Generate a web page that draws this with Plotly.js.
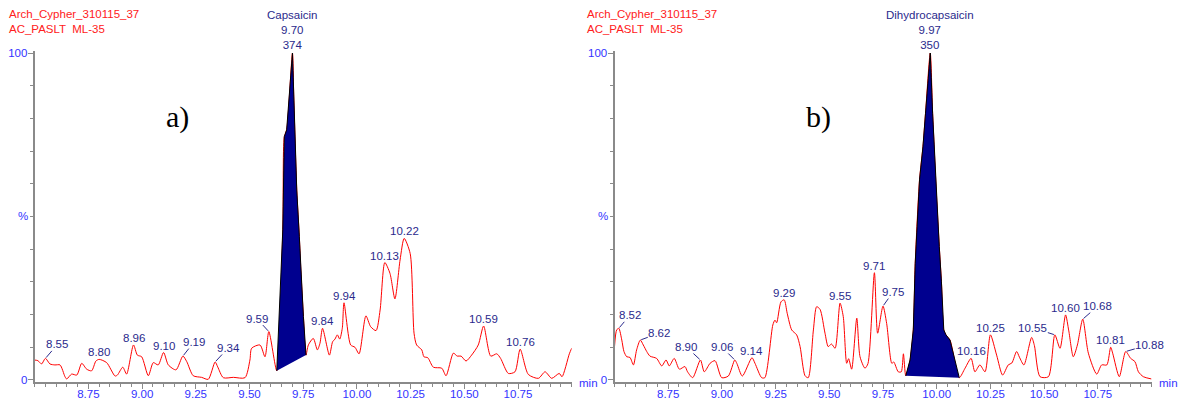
<!DOCTYPE html>
<html>
<head>
<meta charset="utf-8">
<script src="https://cdn.plot.ly/plotly-3.0.1.min.js"></script>
<style>
  html, body { margin: 0; padding: 0; background: #ffffff; }
  #chart { width: 1184px; height: 402px; }
</style>
</head>
<body>
<div id="chart"></div>
<script>
// ---- Chromatogram a): Capsaicin channel (retention time in min, relative intensity %) ----
const capTime = [
  8.500, 8.515, 8.532, 8.550, 8.571, 8.594, 8.618, 8.641, 8.649, 8.672, 8.696, 8.719, 8.742, 8.765,
  8.785, 8.800, 8.835, 8.874, 8.885, 8.910, 8.928, 8.960, 8.978, 8.998, 9.029, 9.052, 9.075, 9.100,
  9.122, 9.158, 9.190, 9.208, 9.238, 9.277, 9.308, 9.340, 9.352, 9.378, 9.425, 9.479, 9.502, 9.510,
  9.549, 9.572, 9.590, 9.627, 9.655, 9.662, 9.673, 9.700, 9.706, 9.720, 9.732, 9.739, 9.751, 9.763,
  9.774, 9.797, 9.816, 9.828, 9.840, 9.872, 9.887, 9.898, 9.909, 9.920, 9.932, 9.940, 9.971, 9.991,
  10.010, 10.042, 10.064, 10.089, 10.108, 10.130, 10.154, 10.177, 10.201, 10.220, 10.248, 10.266,
  10.278, 10.302, 10.312, 10.330, 10.356, 10.395, 10.415, 10.449, 10.467, 10.485, 10.508, 10.534,
  10.565, 10.590, 10.623, 10.651, 10.669, 10.705, 10.736, 10.760, 10.798, 10.845, 10.876, 10.907,
  10.942, 10.955, 10.989, 11.000
];
const capInt = [
  6.1, 5.9, 4.9, 6.6, 4.9, 4.6, 4.6, 1.0, 0.3, 1.8, 1.5, 5.1, 3.3, 2.8,
  5.8, 6.3, 5.3, 1.2, 1.5, 3.9, 1.8, 10.7, 7.6, 7.1, 1.3, 5.3, 4.6, 8.4,
  4.6, 3.1, 7.3, 5.6, 1.3, 0.8, 0.2, 5.5, 4.0, 0.7, 0.8, 0.7, 6.1, 9.7,
  10.7, 7.1, 14.8, 2.8, 45.9, 74.4, 76.5, 100, 86.6, 58.1, 43.8, 33.6, 19.4, 7.6,
  10.7, 12.7, 9.2, 11.2, 15.8, 7.6, 11.7, 12.5, 13.8, 12.5, 15.8, 23.6, 10.7, 10.0,
  8.0, 19.6, 16.3, 15.1, 21.4, 35.9, 32.6, 24.8, 36.7, 43.3, 38.7, 14.3,
  10.7, 9.2, 7.1, 6.8, 3.9, 3.6, 1.3, 8.2, 7.3, 7.3, 5.8, 7.6,
  10.7, 16.5, 7.3, 8.0, 6.6, 2.0, 2.5, 9.4, 1.7, 0.5, 2.5, 0.5,
  2.0, 1.0, 8.0, 9.7
];

// ---- Chromatogram b): Dihydrocapsaicin channel ----
const dhcTime = [
  8.500, 8.510, 8.520, 8.534, 8.544, 8.557, 8.572, 8.588, 8.603, 8.620, 8.634, 8.650, 8.665, 8.696,
  8.720, 8.740, 8.755, 8.778, 8.802, 8.828, 8.840, 8.864, 8.900, 8.918, 8.945, 8.968, 8.999, 9.030,
  9.060, 9.070, 9.095, 9.140, 9.154, 9.185, 9.200, 9.237, 9.247, 9.255, 9.275, 9.290, 9.304, 9.325,
  9.348, 9.364, 9.387, 9.402, 9.426, 9.441, 9.457, 9.480, 9.495, 9.510, 9.527, 9.550, 9.565, 9.581,
  9.590, 9.604, 9.628, 9.643, 9.666, 9.680, 9.710, 9.725, 9.750, 9.767, 9.791, 9.800, 9.821, 9.835,
  9.845, 9.856, 9.876, 9.891, 9.900, 9.920, 9.936, 9.948, 9.970, 9.981, 9.997, 10.012, 10.022,
  10.033, 10.043, 10.062, 10.105, 10.132, 10.160, 10.178, 10.201, 10.225, 10.250, 10.279, 10.307,
  10.333, 10.350, 10.372, 10.385, 10.406, 10.442, 10.455, 10.481, 10.520, 10.550, 10.574, 10.600,
  10.615, 10.636, 10.655, 10.680, 10.706, 10.745, 10.768, 10.792, 10.810, 10.820, 10.850, 10.880,
  10.903, 10.923, 10.939, 10.962, 11.000
];
const dhcInt = [
  10.2, 15.3, 15.8, 12.2, 8.7, 7.1, 6.9, 4.6, 9.2, 12.2, 10.7, 8.7, 7.3, 6.6,
  4.3, 6.1, 4.3, 6.6, 3.3, 4.1, 2.5, 0.7, 6.1, 2.5, 5.1, 5.9, 0.7, 1.2,
  6.1, 5.0, 1.2, 6.8, 5.1, 0.7, 0.7, 16.8, 18.3, 17.5, 23.9, 24.5, 20.4, 15.3,
  13.8, 10.2, 1.3, 0.7, 15.3, 22.4, 21.6, 14.3, 10.2, 11.0, 9.7, 23.5, 19.4, 5.1,
  6.5, 3.3, 18.9, 7.1, 3.6, 5.0, 32.8, 14.3, 22.6, 17.3, 5.1, 5.5, 2.5, 2.5,
  8.0, 1.3, 6.1, 15.3, 35.7, 61.2, 71.3, 81.6, 100, 81.6, 59.1, 40.8, 30.0,
  15.3, 13.8, 12.2, 0.7, 3.6, 6.6, 2.5, 4.6, 2.5, 13.8, 7.6, 1.5,
  4.6, 5.2, 8.7, 7.0, 4.6, 13.0, 10.5, 1.0, 1.0, 13.8, 9.7, 19.9,
  15.0, 7.1, 10.7, 18.6, 8.2, 1.8, 4.6, 4.6, 10.0, 8.0, 1.0, 8.7,
  6.6, 5.6, 2.5, 1.0, 0.3
];

// Integrated peaks: compound, apex time, area, integration window
const compoundNames = ["Capsaicin", "Dihydrocapsaicin"];
const apexTimes = [9.70, 9.97];
const peakAreas = [374, 350];
const peakStarts = [9.627, 9.856];
const peakEnds = [9.763, 10.105];

// Apex times marked on each trace
const capLabelTimes = [8.55, 8.80, 8.96, 9.10, 9.19, 9.34, 9.59, 9.84, 9.94, 10.13, 10.22, 10.59, 10.76];
const dhcLabelTimes = [8.52, 8.62, 8.90, 9.06, 9.14, 9.29, 9.55, 9.71, 9.75, 10.16, 10.25, 10.55, 10.60, 10.68, 10.81, 10.88];

// Header lines and panel letters
const sampleName = "Arch_Cypher_310115_37";
const methodName = "AC_PASLT  ML-35";
const panelLetters = ["a)", "b)"];

// Tick labels
const xTickVals = [8.75, 9.00, 9.25, 9.50, 9.75, 10.00, 10.25, 10.50, 10.75];
const xTickText = ["8.75", "9.00", "9.25", "9.50", "9.75", "10.00", "10.25", "10.50", "10.75"];
const yTickVals = [0, 100];
const yTickText = ["0", "100"];

// ---- styling / placement (pixel offsets for labels with leader lines) ----
const capLeader = { "8.55": [12, -14], "9.19": [11, -14], "9.34": [13, -14], "9.59": [-12, -13] };
const dhcLeader = { "8.52": [11, -13], "8.62": [19, -7], "8.90": [-14, -13], "9.06": [-13, -13],
                    "9.75": [10, -14], "10.55": [-22, -7], "10.68": [15, -13], "10.88": [24, -7] };

const W = 1184, H = 402;
const FONT = "Liberation Sans, Arial, sans-serif";
const NAVY = "#2a2a8c";
const TICKBLUE = "#3333ff";
const RED = "#ff2020";
const AXISGRAY = "#8a8a8a";

const panels = [
  { t: capTime, y: capInt, labels: capLabelTimes, leader: capLeader, xa: "x", ya: "y", x0: 34.7 },
  { t: dhcTime, y: dhcInt, labels: dhcLabelTimes, leader: dhcLeader, xa: "x2", ya: "y2", x0: 614.5 }
];
const plotW = 537;

function valueAt(ts, ys, t) {
  let best = 0;
  for (let i = 1; i < ts.length; i++) if (Math.abs(ts[i] - t) < Math.abs(ts[best] - t)) best = i;
  return ys[best];
}

const traces = [];
const annotations = [];

panels.forEach((p, k) => {
  // raw trace
  traces.push({
    x: p.t, y: p.y, xaxis: p.xa, yaxis: p.ya, type: "scatter", mode: "lines",
    line: { color: "#ff0000", width: 1, shape: "spline", smoothing: 0.7 },
    hoverinfo: "skip", showlegend: false
  });
  // integrated peak area (closed by the straight baseline between window ends)
  const px = [], py = [];
  p.t.forEach((tv, i) => { if (tv >= peakStarts[k] - 1e-9 && tv <= peakEnds[k] + 1e-9) { px.push(tv); py.push(p.y[i]); } });
  traces.push({
    x: px, y: py, xaxis: p.xa, yaxis: p.ya, type: "scatter", mode: "lines",
    fill: "toself", fillcolor: "#00008f", line: { color: "#000000", width: 1 },
    hoverinfo: "skip", showlegend: false
  });

  // compound label above integrated peak
  annotations.push({
    xref: p.xa, yref: p.ya, x: apexTimes[k], y: valueAt(p.t, p.y, apexTimes[k]),
    text: compoundNames[k] + "<br>" + apexTimes[k].toFixed(2) + "<br>" + peakAreas[k],
    showarrow: false, yanchor: "bottom", xanchor: "center", yshift: 0,
    font: { family: FONT, size: 11.5, color: NAVY }
  });

  // apex time labels
  p.labels.forEach(t => {
    const key = t.toFixed(2);
    const yv = valueAt(p.t, p.y, t);
    const off = p.leader[key];
    if (off) {
      annotations.push({
        xref: p.xa, yref: p.ya, x: t, y: yv, text: key,
        showarrow: true, arrowhead: 0, arrowwidth: 1, arrowcolor: NAVY,
        ax: off[0], ay: off[1], standoff: 1, borderpad: 0,
        font: { family: FONT, size: 11.5, color: NAVY }
      });
    } else {
      annotations.push({
        xref: p.xa, yref: p.ya, x: t, y: yv, text: key,
        showarrow: false, yanchor: "bottom", xanchor: "center", borderpad: 0,
        font: { family: FONT, size: 11.5, color: NAVY }
      });
    }
  });

  // header lines
  const hx = k === 0 ? 7 : 585;
  annotations.push({ xref: "paper", yref: "paper", x: hx / W, y: 1 - 14 / H, xanchor: "left", yanchor: "middle",
    text: sampleName, showarrow: false, font: { family: FONT, size: 11.5, color: RED } });
  annotations.push({ xref: "paper", yref: "paper", x: hx / W, y: 1 - 29 / H, xanchor: "left", yanchor: "middle",
    text: methodName.replace(/  /g, " &nbsp;"), showarrow: false, font: { family: FONT, size: 11.5, color: RED } });

  // panel letter
  annotations.push({ xref: "paper", yref: "paper", x: (k === 0 ? 177 : 818) / W, y: 1 - 117 / H,
    xanchor: "center", yanchor: "middle", text: panelLetters[k], showarrow: false,
    font: { family: "Liberation Serif, Times New Roman, serif", size: 30, color: "#000000" } });

  // "%" on the intensity axis and "min" at the end of the time axis
  annotations.push({ xref: "paper", yref: "paper", x: (p.x0 - 12) / W, y: 1 - 216 / H, xanchor: "center", yanchor: "middle",
    text: "%", showarrow: false, font: { family: FONT, size: 11.5, color: TICKBLUE } });
  annotations.push({ xref: "paper", yref: "paper", x: (p.x0 + plotW + 5) / W, y: 1 - 383 / H, xanchor: "left", yanchor: "middle",
    text: "min", showarrow: false, font: { family: FONT, size: 11.5, color: TICKBLUE } });
});

function xAxis(x0) {
  return {
    domain: [x0 / W, (x0 + plotW) / W], range: [8.5, 11.0], anchor: null,
    tickmode: "array", tickvals: xTickVals, ticktext: xTickText,
    ticks: "outside", ticklen: 5, tickwidth: 1, tickcolor: AXISGRAY,
    ticklabelstandoff: -4,
    showline: true, linecolor: AXISGRAY, linewidth: 2,
    showgrid: false, zeroline: false, fixedrange: true,
    tickfont: { family: FONT, size: 11.5, color: TICKBLUE },
    minor: { tickmode: "linear", tick0: 8.5, dtick: 0.05, ticks: "outside", ticklen: 3, tickcolor: AXISGRAY, tickwidth: 1, showgrid: false }
  };
}
function yAxis(anchor) {
  return {
    domain: [(H - 381.6) / H, (H - 51.4) / H], range: [-0.5, 100.5], anchor: anchor,
    tickmode: "array", tickvals: yTickVals, ticktext: yTickText,
    ticks: "outside", ticklen: 5, tickwidth: 1, tickcolor: AXISGRAY,
    ticklabelstandoff: -2,
    showline: true, linecolor: AXISGRAY, linewidth: 2,
    showgrid: false, zeroline: false, fixedrange: true,
    tickfont: { family: FONT, size: 11.5, color: TICKBLUE },
    minor: { tickmode: "linear", tick0: 0, dtick: 10, ticks: "outside", ticklen: 3, tickcolor: AXISGRAY, tickwidth: 1, showgrid: false }
  };
}

const xa1 = xAxis(34.7); xa1.anchor = "y";
const xa2 = xAxis(614.5); xa2.anchor = "y2";

const layout = {
  width: W, height: H,
  margin: { l: 0, r: 0, t: 0, b: 0, pad: 0 },
  paper_bgcolor: "#ffffff", plot_bgcolor: "#ffffff",
  showlegend: false,
  xaxis: xa1, yaxis: yAxis("x"),
  xaxis2: xa2, yaxis2: yAxis("x2"),
  annotations: annotations,
  font: { family: FONT }
};

Plotly.newPlot("chart", traces, layout, { displayModeBar: false, staticPlot: true });
</script>
</body>
</html>
